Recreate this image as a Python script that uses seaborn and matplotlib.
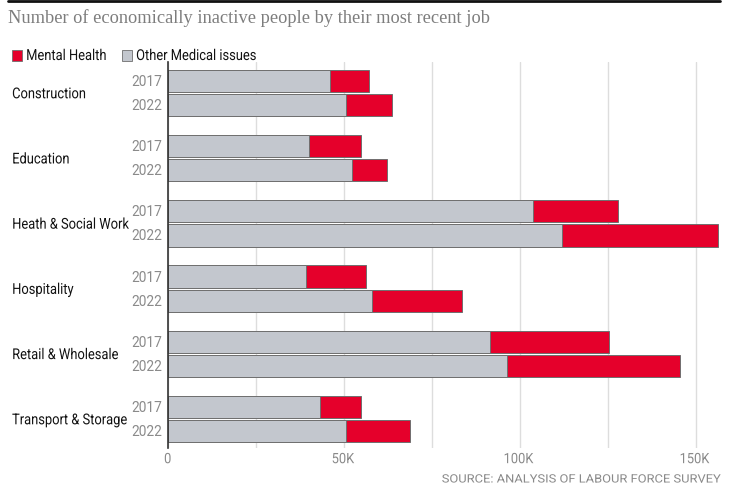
import matplotlib
matplotlib.use("Agg")
import matplotlib.pyplot as plt
import matplotlib.patches as mpatches
import matplotlib.patheffects as pe
from matplotlib.transforms import Affine2D, Bbox, blended_transform_factory
import seaborn as sns
import pandas as pd

categories = ["Construction", "Education", "Heath & Social Work", "Hospitality",
              "Retail & Wholesale", "Transport & Storage"]
years = ["2017", "2022"]
# values in thousands
other_2017 = [46.0, 40.1, 103.7, 39.2, 91.5, 43.3]
other_2022 = [50.6, 52.3, 111.9, 58.0, 96.3, 50.7]
mental_2017 = [11.1, 14.7, 24.1, 17.1, 33.9, 11.5]
mental_2022 = [13.0, 9.9, 44.4, 25.5, 49.2, 18.1]
x_ticks = [0, 50, 100, 150]
x_tick_labels = ["0", "50K", "100K", "150K"]

RED = "#E5002B"
GREY = "#C3C7CE"
EDGE = "#6f6f6f"
SANS = "Roboto"
serif = "Liberation Serif"


class Condense(pe.AbstractPathEffect):
    """Draw text horizontally scaled around its left or right edge."""
    def __init__(self, sx, anchor="left"):
        super().__init__()
        self.sx = sx
        self.anchor = anchor

    def draw_path(self, renderer, gc, tpath, affine, rgbFace=None):
        bb = tpath.get_extents(affine)
        x0 = bb.x0 if self.anchor == "left" else bb.x1
        t = affine + Affine2D().translate(-x0, 0).scale(self.sx, 1).translate(x0, 0)
        renderer.draw_path(gc, tpath, t, rgbFace)


def condensed(text_artist, sx, anchor="left"):
    """Apply the condense effect and report the matching (narrower) extent."""
    text_artist.set_path_effects([Condense(sx, anchor)])
    orig = text_artist.get_window_extent

    def gwe(renderer=None, dpi=None):
        bb = orig(renderer, dpi)
        w = (bb.x1 - bb.x0) * sx
        if anchor == "left":
            return Bbox.from_extents(bb.x0, bb.y0, bb.x0 + w, bb.y1)
        return Bbox.from_extents(bb.x1 - w, bb.y0, bb.x1, bb.y1)

    text_artist.get_window_extent = gwe
    return text_artist


rows = []
for i, c in enumerate(categories):
    rows.append(dict(cat=c, year="2017", other=other_2017[i],
                     total=other_2017[i] + mental_2017[i]))
    rows.append(dict(cat=c, year="2022", other=other_2022[i],
                     total=other_2022[i] + mental_2022[i]))
df = pd.DataFrame(rows)

sns.set_theme(style="white")
plt.rcParams["font.family"] = [SANS, "DejaVu Sans"]

fig = plt.figure(figsize=(7.41, 5.02), dpi=100)
ax = fig.add_axes([168 / 741, 1 - 449 / 502, 552.6 / 741, (449 - 63) / 502])

common = dict(data=df, y="cat", hue="year", order=categories, hue_order=years,
              orient="h", width=0.74, gap=0.08, ax=ax, edgecolor=EDGE,
              linewidth=0.7, legend=False, errorbar=None, saturation=1)
sns.barplot(x="total", palette=[RED, RED], **common)
sns.barplot(x="other", palette=[GREY, GREY], **common)

ax.set_xlim(0, 157)
ax.set_ylim(5.445, -0.475)
ax.set_xlabel("")
ax.set_ylabel("")
grid_ticks = [0, 25, 50, 75, 100, 125, 150]
lbl = {t: l for t, l in zip(x_ticks, x_tick_labels)}
ax.set_xticks(grid_ticks)
ax.set_xticklabels([lbl.get(t, "") for t in grid_ticks], color="#8a8a8a", fontsize=10.3)
for t in ax.get_xticklabels():
    t.set_path_effects([Condense(0.9, "left")])
ax.tick_params(axis="x", length=0, pad=3)
ax.set_yticks([])
ax.grid(axis="x", color="#dddddd", linewidth=1)
ax.set_axisbelow(True)
for s in ["top", "right", "bottom"]:
    ax.spines[s].set_visible(False)
ax.spines["left"].set_color("#333333")
ax.spines["left"].set_linewidth(1.2)

# category and year labels
trans = blended_transform_factory(fig.transFigure, ax.transData)
for i, c in enumerate(categories):
    condensed(ax.text(12 / 741, i + 0.02, c, transform=trans, fontsize=10.8,
                      color="#111111", va="center", ha="left"), 0.86)
    for j, y in enumerate(years):
        off = -0.185 if j == 0 else 0.185
        ax.text(162 / 741, i + off, y, transform=trans, fontsize=9.9, color="#8a8a8a",
                va="center", ha="right")

# title and top rule
fig.add_artist(matplotlib.lines.Line2D([8 / 741, 720 / 741], [1 - 1.5 / 502, 1 - 1.5 / 502],
                                       color="#111111", linewidth=2))
fig.text(8 / 741, 1 - 18 / 502, "Number of economically inactive people by their most recent job",
         family=serif, fontsize=13.25, color="#7d7d7d", va="center", ha="left")

# legend
fig.patches.append(mpatches.Rectangle((12 / 741, 1 - 62 / 502), 10 / 741, 11 / 502,
                                      transform=fig.transFigure, facecolor=RED,
                                      edgecolor=EDGE, linewidth=0.6))
condensed(fig.text(26 / 741, 1 - 57 / 502, "Mental Health", fontsize=10.8, color="#111111",
                   va="center", ha="left"), 0.86)
fig.patches.append(mpatches.Rectangle((122 / 741, 1 - 62 / 502), 10 / 741, 11 / 502,
                                      transform=fig.transFigure, facecolor=GREY,
                                      edgecolor=EDGE, linewidth=0.6))
condensed(fig.text(136 / 741, 1 - 57 / 502, "Other Medical issues", fontsize=10.8,
                   color="#111111", va="center", ha="left"), 0.86)

# source
condensed(fig.text(720 / 741, 1 - 480 / 502, "SOURCE: ANALYSIS OF LABOUR FORCE SURVEY",
                   fontsize=8.3, color="#8a8a8a", va="center", ha="right"), 1.12, "right")

fig.savefig("out.png", dpi=100)
